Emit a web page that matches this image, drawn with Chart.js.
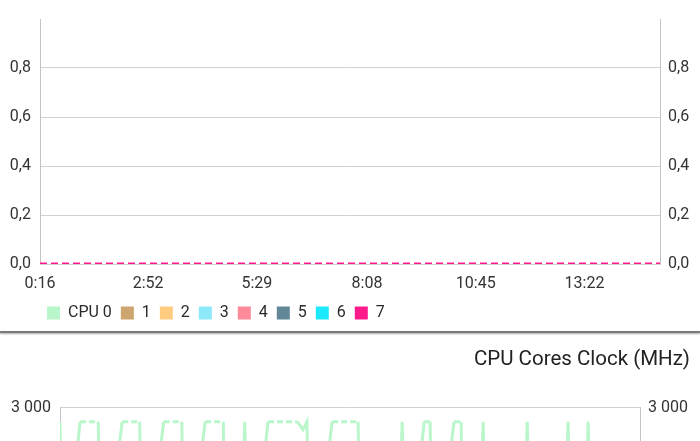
<!DOCTYPE html>
<html>
<head>
<meta charset="utf-8">
<script src="https://cdn.jsdelivr.net/npm/chart.js@4"></script>
<style>
  html, body { margin:0; padding:0; background:#fff; width:700px; height:441px; overflow:hidden; }
  #c1 { position:absolute; left:0; top:0; }
  #sep { position:absolute; left:0; top:331px; width:700px; height:2px; background:#7a7a7a; box-shadow:0 1px 2px rgba(0,0,0,0.35); }
  #c2 { position:absolute; left:0; top:335px; }
</style>
</head>
<body>
<canvas id="c1" width="700" height="331"></canvas>
<div id="sep"></div>
<canvas id="c2" width="700" height="340"></canvas>
<script>
// ---- Data: CPU load chart (top) ----
const times = [16, 172, 329, 488, 645, 802, 911];
const load0 = [0, 0, 0, 0, 0, 0, 0];
const load1 = [0, 0, 0, 0, 0, 0, 0];
const load2 = [0, 0, 0, 0, 0, 0, 0];
const load3 = [0, 0, 0, 0, 0, 0, 0];
const load4 = [0, 0, 0, 0, 0, 0, 0];
const load5 = [0, 0, 0, 0, 0, 0, 0];
const load6 = [0, 0, 0, 0, 0, 0, 0];
const load7 = [0, 0, 0, 0, 0, 0, 0];
const coreLabels = ['CPU 0', '1', '2', '3', '4', '5', '6', '7'];
const coreColors = ['#b9f6ca', '#cda56e', '#ffcc80', '#8de8f8', '#ff8a9a', '#628898', '#1de9fc', '#ff1a8c'];
const timeTicks = [16, 172, 329, 488, 645, 802];
const loadTicks = [0, 0.2, 0.4, 0.6, 0.8];

// ---- Data: CPU Cores Clock chart (bottom, partially visible) ----
const clockTitle = 'CPU Cores Clock (MHz)';
const clockTimes = [16, 19, 47, 75, 78, 112, 139, 143, 176, 204, 207, 240, 268, 271, 294, 301, 308,
  337, 382, 391, 397, 403, 436, 476, 480, 536, 544, 550, 578, 587, 592, 624, 635, 639,
  661, 669, 675, 729, 737, 743, 792, 800, 806, 825, 831, 837, 911];
const clock0 = [2820, 600, 2820, 2820, 600, 2820, 2820, 600, 2820, 2820, 600, 2820, 2820, 600, 600, 2820, 600,
  2820, 2820, 2720, 2820, 600, 2820, 2820, 600, 600, 2820, 600, 2820, 2820, 600, 2820, 2820, 600,
  600, 2820, 600, 600, 2820, 600, 600, 2820, 600, 600, 2820, 600, 600];
const clockTicks = [0, 1000, 2000, 3000];

const loads = [load0, load1, load2, load3, load4, load5, load6, load7];
const FONT = 'Roboto';
const TXT = '#333333';
const GRID = '#d2d2d2';

function fmtTime(v) {
  const m = Math.floor(v / 60), s = Math.round(v % 60);
  return m + ':' + String(s).padStart(2, '0');
}
function fmtComma(v) { return Number(v).toFixed(1).replace('.', ','); }
function fmtThousands(v) { return String(Math.round(v)).replace(/\B(?=(\d{3})+(?!\d))/g, ' '); }

// shift the legend so it starts under the plot like the reference
const legendShift = {
  id: 'legendShift',
  afterLayout(chart) {
    const l = chart.legend;
    if (l) { l.left += 38; l.right += 38; }
  }
};

// ---- Top chart ----
new Chart(document.getElementById('c1'), {
  type: 'line',
  data: {
    datasets: loads.map((arr, i) => ({
      label: coreLabels[i],
      data: arr.map((v, j) => ({ x: times[j], y: v })),
      borderColor: coreColors[i],
      backgroundColor: coreColors[i],
      borderWidth: i === 7 ? 3 : 1,
      borderDash: [7, 4],
      pointRadius: 0,
      tension: 0,
      order: i === 7 ? -1 : i
    }))
  },
  plugins: [legendShift],
  options: {
    responsive: false,
    animation: false,
    layout: { padding: { top: 19, left: 0, right: 0, bottom: 0 } },
    plugins: {
      tooltip: { enabled: false },
      legend: {
        position: 'bottom',
        align: 'start',
        labels: {
          boxWidth: 13, boxHeight: 13, padding: 9,
          color: '#2a2a2a', font: { family: FONT, size: 16 },
          generateLabels: (chart) => chart.data.datasets.map((ds, i) => ({
            text: ds.label, fillStyle: ds.backgroundColor, strokeStyle: ds.backgroundColor,
            lineWidth: 0, lineDash: [], hidden: false, datasetIndex: i, fontColor: '#2a2a2a'
          }))
        }
      }
    },
    scales: {
      x: {
        type: 'linear', min: 16, max: 911,
        afterBuildTicks: (s) => { s.ticks = timeTicks.map(v => ({ value: v })); },
        afterFit: (s) => { s.height = 32; },
        grid: { display: false, drawTicks: false },
        border: { display: false },
        ticks: { padding: 10, color: TXT, font: { family: FONT, size: 16 }, callback: (v) => fmtTime(v), maxRotation: 0 }
      },
      y: {
        position: 'left', min: 0, max: 1,
        afterBuildTicks: (s) => { s.ticks = loadTicks.map(v => ({ value: v })); },
        afterFit: (s) => { s.width = 40; },
        grid: { color: GRID, drawTicks: false },
        border: { color: '#c4c4c4' },
        ticks: { padding: 9, color: TXT, font: { family: FONT, size: 16 }, callback: (v) => fmtComma(v) }
      },
      y2: {
        position: 'right', min: 0, max: 1,
        afterBuildTicks: (s) => { s.ticks = loadTicks.map(v => ({ value: v })); },
        afterFit: (s) => { s.width = 40; },
        grid: { display: false, drawTicks: false },
        border: { color: '#c4c4c4' },
        ticks: { padding: 8, color: TXT, font: { family: FONT, size: 16 }, callback: (v) => fmtComma(v) }
      }
    }
  }
});

// ---- Bottom chart ----
new Chart(document.getElementById('c2'), {
  type: 'line',
  data: {
    datasets: [{
      label: coreLabels[0],
      data: clock0.map((v, j) => ({ x: clockTimes[j], y: v })),
      borderColor: coreColors[0],
      borderWidth: 3,
      pointRadius: 0,
      tension: 0,
      segment: {
        borderDash: (ctx) => (ctx.p0.parsed.y === ctx.p1.parsed.y && ctx.p0.parsed.y > 2000) ? [6, 3] : undefined
      }
    }]
  },
  options: {
    responsive: false,
    animation: false,
    layout: { padding: { top: 0, left: 0, right: 10, bottom: 0 } },
    plugins: {
      tooltip: { enabled: false },
      legend: { display: false },
      title: {
        display: true, text: clockTitle, align: 'end', color: '#222',
        font: { family: FONT, size: 20.5, weight: 'normal' },
        padding: { top: 13, bottom: 35 }
      }
    },
    scales: {
      x: {
        type: 'linear', min: 16, max: 911,
        afterBuildTicks: (s) => { s.ticks = timeTicks.map(v => ({ value: v })); },
        afterFit: (s) => { s.height = 32; },
        grid: { display: false, drawTicks: false },
        border: { display: false },
        ticks: { padding: 10, color: TXT, font: { family: FONT, size: 16 }, callback: (v) => fmtTime(v), maxRotation: 0 }
      },
      y: {
        position: 'left', min: 0, max: 3000,
        afterBuildTicks: (s) => { s.ticks = clockTicks.map(v => ({ value: v })); },
        afterFit: (s) => { s.width = 60; },
        grid: { color: GRID, drawTicks: false },
        border: { color: '#c4c4c4' },
        ticks: { padding: 9, color: TXT, font: { family: FONT, size: 16 }, callback: (v) => fmtThousands(v) }
      },
      y2: {
        position: 'right', min: 0, max: 3000,
        afterBuildTicks: (s) => { s.ticks = clockTicks.map(v => ({ value: v })); },
        afterFit: (s) => { s.width = 50; },
        grid: { display: false, drawTicks: false },
        border: { color: '#c4c4c4' },
        ticks: { padding: 8, color: TXT, font: { family: FONT, size: 16 }, callback: (v) => fmtThousands(v) }
      }
    }
  }
});
</script>
</body>
</html>
